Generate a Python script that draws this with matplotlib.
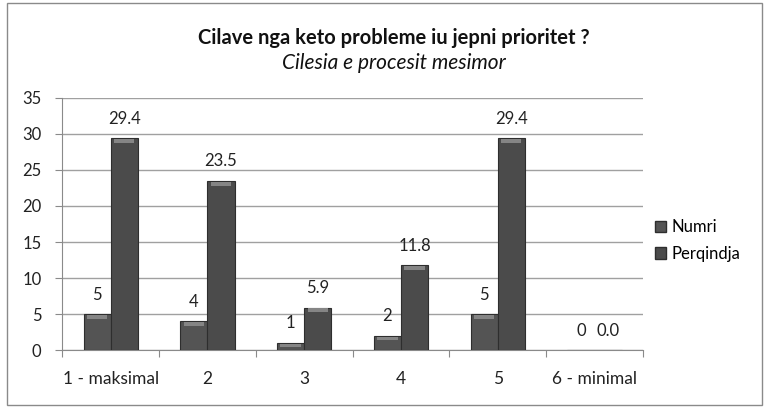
import numpy as np
import matplotlib
matplotlib.use("Agg")
import matplotlib.pyplot as plt
from matplotlib.patches import Rectangle

plt.rcParams['font.family'] = ['Lato', 'DejaVu Sans']

# --- data ---
categories = ["1 - maksimal", "2", "3", "4", "5", "6 - minimal"]
numri = [5, 4, 1, 2, 5, 0]
perqindja = [29.4, 23.5, 5.9, 11.8, 29.4, 0.0]
series_names = ["Numri", "Perqindja"]

fig = plt.figure(figsize=(7.69, 4.08), dpi=100)
ax = fig.add_axes([0.081, 0.142, 0.755, 0.618])

x = np.arange(len(categories))
w = 0.28
colors = ["#545454", "#4b4b4b"]

for vals, off, col in [(numri, -w / 2, colors[0]), (perqindja, w / 2, colors[1])]:
    bars = ax.bar(x + off, vals, w, color=col, edgecolor="#2e2e2e", linewidth=0.8, zorder=3)
    # lighter bevel strip along the top of each bar
    for b, v in zip(bars, vals):
        if v > 0:
            h = min(0.55, v * 0.4)
            ax.add_patch(Rectangle((b.get_x() + 0.035, v - h - 0.12), w - 0.07, h,
                                   facecolor="#858585", edgecolor="none", zorder=4))
    for b, v in zip(bars, vals):
        lab = f"{v:.1f}" if isinstance(v, float) else f"{v}"
        ax.text(b.get_x() + w / 2, v + 1.6, lab, ha="center", va="bottom",
                fontsize=12, color="#222222", zorder=5)

ax.set_xlim(-0.5, len(categories) - 0.5)
ax.set_ylim(0, 35)
ax.set_yticks(np.arange(0, 36, 5))
ax.yaxis.grid(True, color="#a0a0a0", linewidth=1.0, zorder=0)
ax.set_axisbelow(True)

ax.set_xticks(np.arange(-0.5, len(categories), 1.0))
ax.set_xticklabels([])
ax.set_xticks(x, minor=True)
ax.set_xticklabels(categories, minor=True)
ax.tick_params(axis="x", which="major", length=5, color="#8a8a8a", direction="out")
ax.tick_params(axis="x", which="minor", length=0, pad=15, labelsize=12.5, labelcolor="#222222")
ax.tick_params(axis="y", length=5, color="#8a8a8a", labelsize=12, labelcolor="#222222", pad=10)

for s in ["top", "right"]:
    ax.spines[s].set_visible(False)
ax.spines["left"].set_color("#8a8a8a")
ax.spines["bottom"].set_color("#8a8a8a")

# title block
fig.text(0.512, 0.908, "Cilave nga keto probleme iu jepni prioritet ?", ha="center",
         va="center", fontsize=14.5, fontweight="bold", color="#111111")
fig.text(0.512, 0.846, "Cilesia e procesit mesimor", ha="center", va="center",
         fontsize=15, style="italic", color="#111111")

# legend
handles = [Rectangle((0, 0), 1, 1, facecolor=c, edgecolor="#2e2e2e") for c in colors]
fig.legend(handles, series_names, loc="center left", bbox_to_anchor=(0.832, 0.41),
           frameon=False, fontsize=12, handlelength=0.7, handleheight=0.7,
           handletextpad=0.3, labelspacing=0.65)

# outer chart border
fig.patches.append(Rectangle((0.009, 0.008), 0.982, 0.985, transform=fig.transFigure,
                             fill=False, edgecolor="#8a8a8a", linewidth=1.0))

fig.savefig("out.png", dpi=100)
